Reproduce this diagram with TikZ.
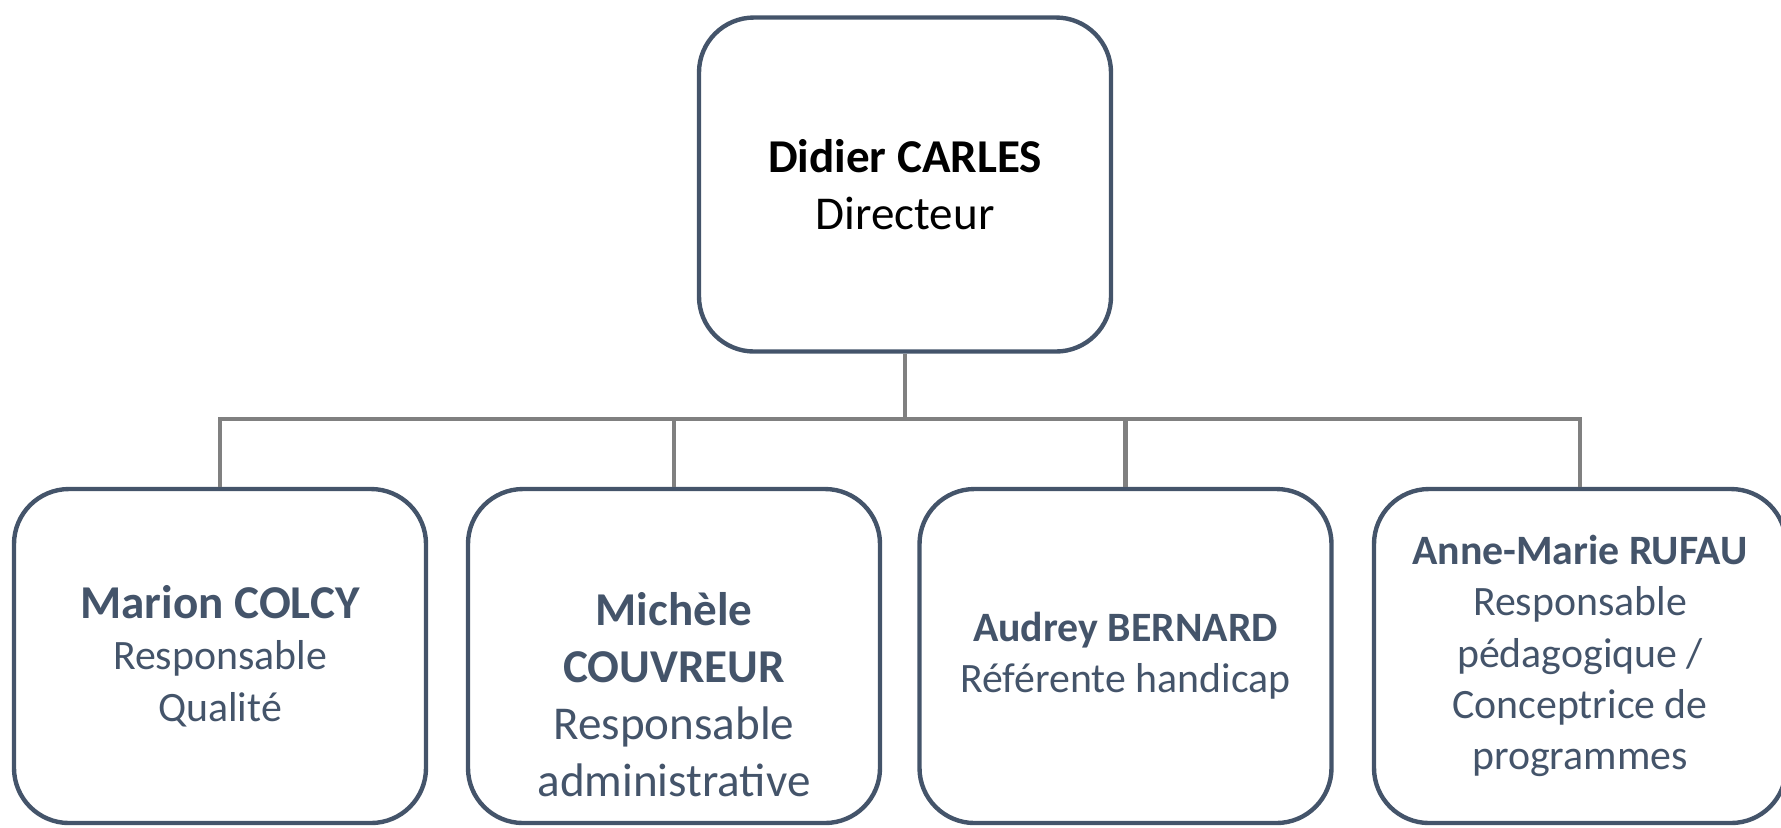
\documentclass[tikz,border=0pt]{standalone}
\usepackage{fontspec}
\setmainfont{Carlito}
\usetikzlibrary{positioning,calc}
\definecolor{boxline}{HTML}{44546A}
\definecolor{linkgray}{HTML}{808080}

\begin{document}
\begin{tikzpicture}[
    person/.style={rectangle, draw=boxline, line width=1.25pt, rounded corners=0.55cm, minimum width=4.12cm, minimum height=3.34cm, align=center, text=boxline, inner sep=0pt},
    txt/.style={align=center, text=boxline, inner sep=0pt},
    link/.style={draw=linkgray, line width=1.15pt},
    big/.style={font=\fontsize{13.4}{16.2}\selectfont},
    small/.style={font=\fontsize{11.9}{14.6}\selectfont}
]
    \useasboundingbox (0,0) rectangle (17.81,-8.27);

    % Liaisons
    \coordinate (bus) at (9.05,-4.19);

    % Directeur
    \node[person, big, text=black] (carles) at (9.05,-1.845) {\textbf{Didier CARLES}\\Directeur};

    % Equipe
    \node[person, small] (colcy) at (2.20,-6.56) {{\fontsize{13.4}{16.2}\selectfont\bfseries Marion COLCY}\\Responsable\\Qualité};
    \node[person] (couvreur) at (6.74,-6.56) {};
    \node[txt, big] (couvreur-txt) at ([yshift=-0.39cm]couvreur.center) {\textbf{Michèle}\\\textbf{COUVREUR}\\Responsable\\administrative};
    \node[person, small] (bernard) at (11.255,-6.56) {\textbf{Audrey BERNARD}\\Référente handicap};
    \node[person, small] (rufau) at (15.80,-6.56) {\textbf{Anne-Marie RUFAU}\\Responsable\\pédagogique /\\Conceptrice de\\programmes};

    \draw[link] (carles.south) -- (bus);
    \foreach \n in {colcy,couvreur,bernard,rufau}
        \draw[link] (bus) -| (\n.north);
\end{tikzpicture}
\end{document}
